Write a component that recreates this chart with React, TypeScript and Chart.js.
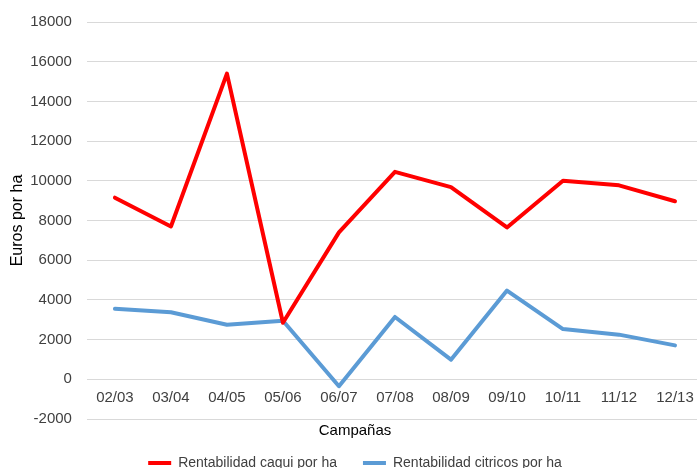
import React, { useEffect, useRef } from "react";
import { Chart, registerables } from "chart.js";

Chart.register(...registerables);

const campaigns = ["02/03", "03/04", "04/05", "05/06", "06/07", "07/08", "08/09", "09/10", "10/11", "11/12", "12/13"];
const caqui = [9150, 7700, 15400, 2850, 7400, 10450, 9680, 7650, 10000, 9770, 8970];
const citricos = [3550, 3380, 2750, 2950, -350, 3140, 990, 4470, 2530, 2250, 1710];
const seriesNames = ["Rentabilidad caqui por ha", "Rentabilidad citricos por ha"];
const yTitle = "Euros por ha";
const xTitle = "Campañas";

const FONT = "'Liberation Sans', Arial, sans-serif";
const TEXT = "#404040";

export default function App() {
  const ref = useRef<HTMLCanvasElement | null>(null);

  useEffect(() => {
    if (!ref.current) return;
    const chart = new Chart(ref.current, {
      type: "line",
      data: {
        labels: campaigns,
        datasets: [
          {
            label: seriesNames[0],
            data: caqui,
            borderColor: "#FF0000",
            backgroundColor: "#FF0000",
            borderWidth: 4,
            pointRadius: 0,
            tension: 0,
            borderJoinStyle: "round",
            borderCapStyle: "round",
          },
          {
            label: seriesNames[1],
            data: citricos,
            borderColor: "#5B9BD5",
            backgroundColor: "#5B9BD5",
            borderWidth: 4,
            pointRadius: 0,
            tension: 0,
            borderJoinStyle: "round",
            borderCapStyle: "round",
          },
        ],
      },
      options: {
        animation: false,
        responsive: true,
        maintainAspectRatio: false,
        layout: { padding: { top: 22, left: 7, right: 7, bottom: 0 } },
        scales: {
          x: {
            type: "category",
            offset: true,
            position: { y: 0 } as any,
            grid: { display: false, drawTicks: false },
            border: { display: false },
            ticks: { color: TEXT, font: { family: FONT, size: 15 }, padding: 10, maxRotation: 0, autoSkip: false },
            afterFit: (s: any) => {
              s.paddingLeft = 0;
              s.paddingRight = 0;
            },
          },
          y: {
            min: -2000,
            max: 18000,
            ticks: {
              stepSize: 2000,
              color: TEXT,
              font: { family: FONT, size: 15 },
              padding: 15,
              callback: (v: any) => String(v),
            },
            grid: { color: "#d9d9d9", drawTicks: false, lineWidth: 1 },
            border: { display: false },
            title: {
              display: true,
              text: yTitle,
              color: "#000",
              font: { family: FONT, size: 16 },
              padding: { top: 1, bottom: -12 },
            },
            afterFit: (s: any) => {
              s.paddingTop = 0;
              s.paddingBottom = 0;
            },
          },
        },
        plugins: {
          title: {
            display: true,
            text: xTitle,
            position: "bottom",
            weight: 500,
            color: "#000",
            font: { family: FONT, size: 15, weight: "normal" },
            padding: { top: 3, bottom: -10 },
          } as any,
          legend: {
            position: "bottom",
            labels: {
              color: TEXT,
              font: { family: FONT, size: 14 },
              boxWidth: 23,
              boxHeight: 4,
              padding: 26,
              generateLabels: (c: any) =>
                Chart.defaults.plugins.legend.labels.generateLabels(c).map((l: any) => ({
                  ...l,
                  lineWidth: 0,
                  fillStyle: l.strokeStyle,
                })),
            },
          },
          tooltip: { enabled: false },
        },
      },
    });
    return () => chart.destroy();
  }, []);

  return (
    <div style={{ position: "absolute", left: 0, top: 0, width: 697, height: 468, overflow: "hidden", background: "#fff" }}>
      <div style={{ position: "absolute", left: 0, top: 0, width: 710, height: 480 }}>
        <canvas ref={ref} />
      </div>
    </div>
  );
}
